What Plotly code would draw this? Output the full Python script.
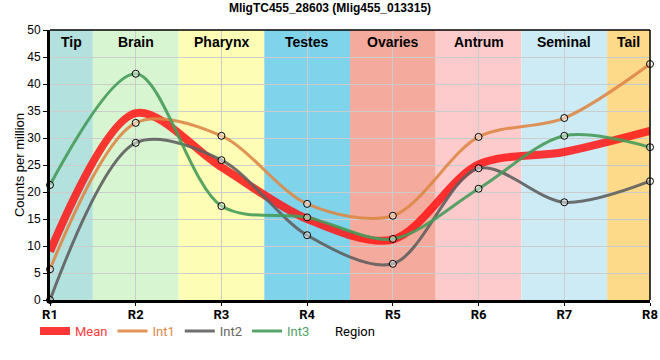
import plotly.graph_objects as go

regions = ["R1", "R2", "R3", "R4", "R5", "R6", "R7", "R8"]
xpos = [1, 2, 3, 4, 5, 6, 7, 8]
int1 = [5.7, 32.8, 30.4, 17.8, 15.6, 30.2, 33.7, 43.7]
int2 = [0.0, 29.1, 25.9, 12.0, 6.7, 24.4, 18.1, 22.0]
int3 = [21.3, 41.9, 17.4, 15.3, 11.3, 20.6, 30.4, 28.3]
mean = [9.0, 34.6, 24.6, 15.0, 11.2, 25.1, 27.4, 31.3]

band_names = ["Tip", "Brain", "Pharynx", "Testes", "Ovaries", "Antrum", "Seminal", "Tail"]
band_start = [1, 1.5, 2.5, 3.5, 4.5, 5.5, 6.5, 7.5]
band_end = [1.5, 2.5, 3.5, 4.5, 5.5, 6.5, 7.5, 8]
band_colors = ["#b3e2de", "#d7f5d0", "#fdfdb6", "#7fd3eb", "#f4ab9d", "#fecbcc", "#cdebf5", "#fdd98a"]

fig = go.Figure()

fig.add_trace(go.Scatter(
    x=xpos, y=mean, mode="lines", line=dict(color="rgba(255,20,20,0.85)", width=8, shape="spline", smoothing=0.9),
    name="<span style='color:#ff3b3b'>Mean</span>"))

series = [("Int1", int1, "rgba(222,135,70,0.9)", "#dd8a4a"),
          ("Int2", int2, "rgba(95,95,95,0.9)", "#666666"),
          ("Int3", int3, "rgba(70,155,90,0.9)", "#55a066")]
for nm, vals, lc, tc in series:
    fig.add_trace(go.Scatter(
        x=xpos, y=vals, mode="lines+markers",
        line=dict(color=lc, width=3, shape="spline", smoothing=0.9),
        marker=dict(size=7, color="rgba(255,255,255,0.45)", line=dict(color="black", width=1)),
        showlegend=False, cliponaxis=False))
for nm, vals, lc, tc in series:
    fig.add_trace(go.Scatter(
        x=[None], y=[None], mode="lines", line=dict(color=lc, width=3),
        name=f"<span style='color:{tc}'>{nm}</span>"))

shapes = []
for s, e, c in zip(band_start, band_end, band_colors):
    shapes.append(dict(type="rect", xref="x", yref="y", x0=s, x1=e, y0=0, y1=50,
                       fillcolor=c, line=dict(width=0), layer="below"))
shapes.append(dict(type="line", xref="paper", yref="paper", x0=0, x1=1, y0=1, y1=1, line=dict(color="black", width=1.5)))
shapes.append(dict(type="line", xref="paper", yref="paper", x0=1, x1=1, y0=0, y1=1, line=dict(color="black", width=1.5)))

annotations = []
for nm, s, e in zip(band_names, band_start, band_end):
    annotations.append(dict(x=(s + e) / 2, y=1, xref="x", yref="paper", yanchor="top", yshift=-2,
                            text=f"<b>{nm}</b>", showarrow=False,
                            font=dict(family="Liberation Sans", size=14, color="black")))
annotations.append(dict(x=(355 - 50) / 600, y=-0.115, xref="paper", yref="paper", xanchor="center",
                        yanchor="middle", text="Region", showarrow=False,
                        font=dict(family="Roboto", size=13, color="black")))

fig.update_layout(
    width=660, height=360,
    margin=dict(l=50, r=10, t=30, b=60),
    plot_bgcolor="white", paper_bgcolor="white",
    title=dict(text="<b>MligTC455_28603 (Mlig455_013315)</b>", x=0.5, xanchor="center", y=0.99, yanchor="top",
               font=dict(family="Liberation Sans", size=12, color="black")),
    shapes=shapes, annotations=annotations,
    legend=dict(orientation="h", x=-0.025, xanchor="left", y=-0.115, yanchor="middle",
                font=dict(family="Roboto", size=13), itemwidth=30, tracegroupgap=0,
                bgcolor="rgba(0,0,0,0)"),
    xaxis=dict(range=[1, 8], tickvals=xpos, ticktext=regions, showgrid=True, gridcolor="#cccccc", gridwidth=1,
               showline=True, linecolor="black", linewidth=3, ticks="outside", ticklen=3, tickcolor="black",
               ticklabelstandoff=-3,
               tickfont=dict(family="Roboto", size=13, color="black", weight="bold"), zeroline=False,
               automargin=False),
    yaxis=dict(range=[0, 50], dtick=5, showgrid=True, gridcolor="#cccccc", gridwidth=1,
               showline=True, linecolor="black", linewidth=3, ticks="outside", ticklen=4, tickcolor="black",
               tickfont=dict(family="Liberation Sans", size=12, color="black"), zeroline=False, automargin=False,
               title=dict(text="Counts per million", font=dict(family="Liberation Sans", size=13, color="black"), standoff=0)),
)

fig.write_html("out.html", config={"displayModeBar": False},
               post_script="document.body.style.margin='0px'; document.body.style.overflow='hidden';")
